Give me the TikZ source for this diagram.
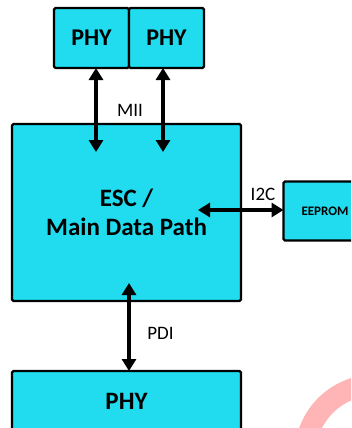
\documentclass[tikz,border=0pt]{standalone}
\usepackage{fontspec}
\setmainfont{Carlito}
\usetikzlibrary{arrows.meta}
\definecolor{boxcyan}{RGB}{32,220,238}
\definecolor{wmpink}{RGB}{255,180,182}
\tikzset{
  blk/.style={draw=black, line width=2.2pt, fill=boxcyan, rounded corners=1.5pt, inner sep=0pt, outer sep=0pt},
  biarrow/.style={line width=4pt, {Triangle[width=14pt,length=12pt]}-{Triangle[width=14pt,length=12pt]}},
  lbl/.style={font=\fontsize{19}{22}\selectfont, inner sep=0pt}
}
\begin{document}
\begin{tikzpicture}[x=1pt,y=-1pt]
\useasboundingbox (0,0) rectangle (351,428);
\clip (0,0) rectangle (351,428);
% watermark arc
\draw[wmpink, line width=21pt] (375,455) circle (70);
% boxes
\node[blk, minimum width=75pt, minimum height=60pt, font=\bfseries\fontsize{24}{28}\selectfont] (phyL) at (91.5,38) {PHY};
\node[blk, minimum width=75pt, minimum height=60pt, font=\bfseries\fontsize{24}{28}\selectfont] (phyR) at (166.5,38) {PHY};
\node[blk, minimum width=229pt, minimum height=177pt, align=center, font=\bfseries\fontsize{25}{29}\selectfont] (esc) at (126.5,212.5) {ESC /\\Main Data Path};
\node[blk, minimum width=83pt, minimum height=59pt, font=\bfseries\fontsize{13}{15}\selectfont] (eeprom) at (325,211) {EEPROM};
\node[blk, minimum width=229pt, minimum height=60pt, font=\bfseries\fontsize{25}{29}\selectfont] (phyB) at (126.5,401) {PHY};
% arrow end points
\coordinate (m1) at (96,152);
\coordinate (m2) at (163,152);
\coordinate (i2) at (198,210);
\coordinate (p1) at (129,283);
% connectors
\draw[biarrow] (m1 |- phyL.south) -- (m1);
\draw[biarrow] (m2 |- phyR.south) -- (m2);
\draw[biarrow] (i2) -- (i2 -| eeprom.west);
\draw[biarrow] (p1) -- (p1 |- phyB.north);
% labels
\node[lbl] (mii) at (130,110) {MII};
\node[lbl] (i2c) at (263,194) {I2C};
\node[lbl] (pdi) at (160.5,333) {PDI};
\end{tikzpicture}
\end{document}
